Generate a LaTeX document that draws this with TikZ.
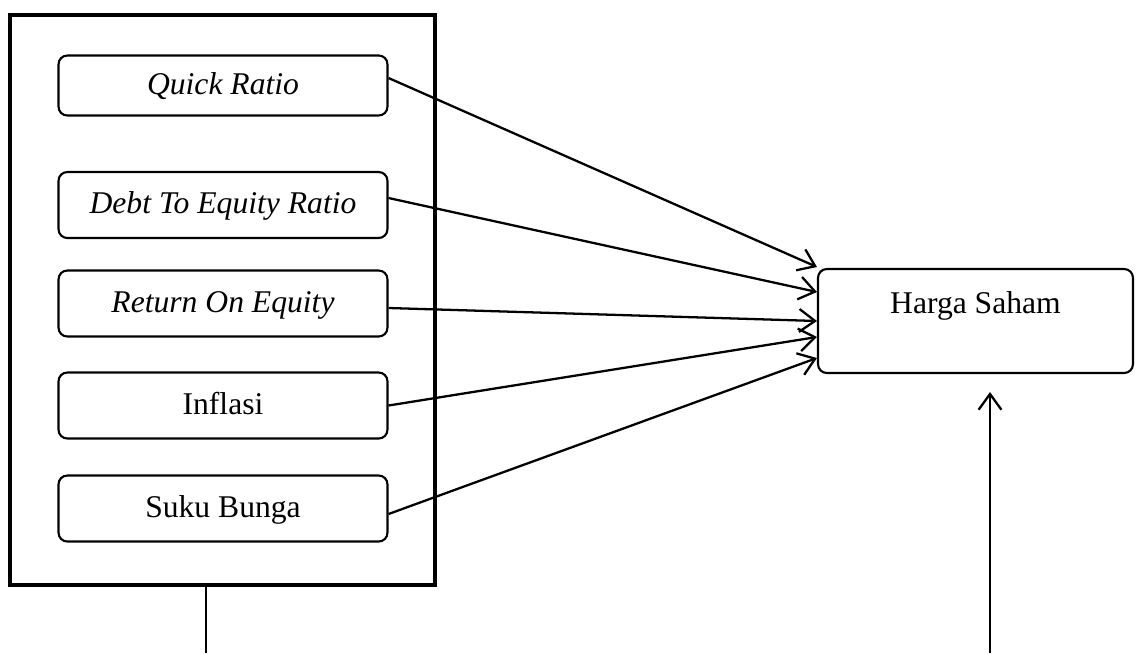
\documentclass[tikz,border=0pt]{standalone}
\usepackage{fontspec}
\setmainfont{Liberation Serif}
\usetikzlibrary{arrows.meta, positioning}
\tikzset{
  vbox/.style args={#1}{
    rectangle, rounded corners=5pt,
    draw=black, fill=white,
    font=\fontsize{18}{21.6}\selectfont, align=center,
    inner sep=0pt, minimum width=6.58cm, minimum height=#1,
    text height=0.5cm, text depth=0.16cm,
    line width=1.2pt,
  },
  grp/.style={
    rectangle, draw=black, line width=1.9pt,
    minimum width=8.5cm, minimum height=11.4cm, inner sep=0pt,
  },
  arr/.style={
    -{Straight Barb[length=9pt,width=13pt,line width=1.3pt]},
    line width=1.3pt,
  },
}

\begin{document}
\begin{tikzpicture}[x=0.02cm,y=-0.02cm]
    \useasboundingbox (0,0) rectangle (1136,653);
    % independent variables
    \node[grp] (grp) at (222.5,300) {};
    \node[vbox=1.2cm]  (qr)   at (223,85.5)  {\textit{Quick Ratio}};
    \node[vbox=1.32cm] (der)  at (223,205)   {\textit{Debt To Equity Ratio}};
    \node[vbox=1.32cm] (roe)  at (223,303.5) {\textit{Return On Equity}};
    \node[vbox=1.32cm] (infl) at (223,405.5) {Inflasi};
    \node[vbox=1.32cm] (suku) at (223,508.5) {Suku Bunga};
    % dependent variable
    \node[vbox=2.08cm, minimum width=6.3cm, text height=0.45cm, text depth=0.77cm]
      (hs) at (975.5,321) {Harga Saham};
    \draw[arr] ([yshift=0.15cm]qr.east)   -- ([yshift=1.08cm]hs.west);
    \draw[arr] ([yshift=0.14cm]der.east)  -- ([yshift=0.58cm]hs.west);
    \draw[arr] ([yshift=-0.09cm]roe.east) -- (hs.west);
    \draw[arr] (infl.east)                -- ([yshift=-0.32cm]hs.west);
    \draw[arr] ([yshift=-0.11cm]suku.east) -- ([yshift=-0.74cm]hs.west);
    % lines at the bottom
    \coordinate (b1) at (206,653);
    \draw[line width=0.6pt] (b1) -- (b1 |- grp.south);
    \coordinate (b2) at (990,653);
    \coordinate (b2top) at (990,392);
    \draw[arr] (b2) -- (b2top);
\end{tikzpicture}
\end{document}
